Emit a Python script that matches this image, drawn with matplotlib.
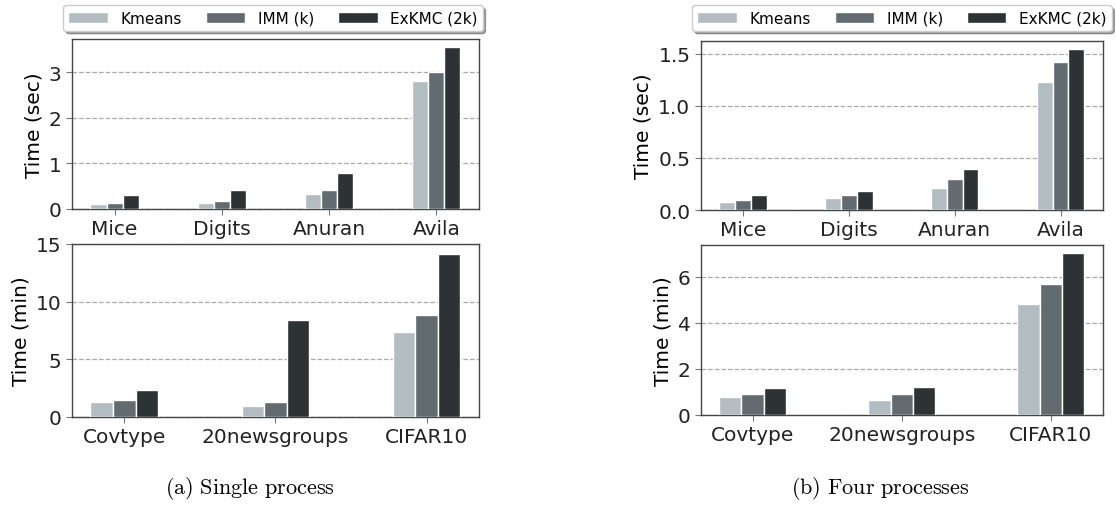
import matplotlib
matplotlib.use("Agg")
import matplotlib.pyplot as plt
import numpy as np

# data
methods = ["Kmeans", "IMM (k)", "ExKMC (2k)"]
colors = ["#b3bcc1", "#626b70", "#2d3335"]

small_datasets = ["Mice", "Digits", "Anuran", "Avila"]
large_datasets = ["Covtype", "20newsgroups", "CIFAR10"]

# (a) single process
single_small = {
    "Kmeans": [0.10, 0.13, 0.33, 2.81],
    "IMM (k)": [0.13, 0.17, 0.42, 3.01],
    "ExKMC (2k)": [0.30, 0.42, 0.78, 3.55],
}
single_large = {
    "Kmeans": [1.30, 0.95, 7.40],
    "IMM (k)": [1.45, 1.30, 8.80],
    "ExKMC (2k)": [2.35, 8.40, 14.10],
}

# (b) four processes
four_small = {
    "Kmeans": [0.077, 0.115, 0.215, 1.23],
    "IMM (k)": [0.100, 0.140, 0.300, 1.42],
    "ExKMC (2k)": [0.145, 0.186, 0.395, 1.545],
}
four_large = {
    "Kmeans": [0.77, 0.65, 4.82],
    "IMM (k)": [0.92, 0.92, 5.69],
    "ExKMC (2k)": [1.15, 1.21, 7.03],
}

captions = ["(a) Single process", "(b) Four processes"]

FONT = 14.5
WIDTH = 0.15


def draw_bars(ax, labels, values, ylabel):
    x = np.arange(len(labels))
    handles = []
    for i, (m, c) in enumerate(zip(methods, colors)):
        h = ax.bar(x + (i - 1) * WIDTH, values[m], WIDTH, color=c,
                   edgecolor="white", linewidth=1.0, zorder=3, label=m)
        handles.append(h)
    ax.set_xticks(x)
    ax.set_xticklabels(labels, fontsize=FONT)
    ax.set_ylabel(ylabel, fontsize=FONT)
    ax.tick_params(axis="both", labelsize=FONT, colors="#222222",
                   length=4, width=0.8)
    ax.tick_params(axis="x", color="#777777")
    ax.tick_params(axis="y", color="#777777")
    ax.grid(axis="y", linestyle="--", color="#aaaaaa", linewidth=0.9, zorder=0)
    for s in ax.spines.values():
        s.set_color("#444444")
        s.set_linewidth(1.0)
    ax.set_ylim(bottom=0)
    return handles


def main():
    fig = plt.figure(figsize=(11.16, 5.06), dpi=100)

    # axes rectangles in figure fraction (left, bottom, width, height)
    ax_a_top = fig.add_axes([0.0645, 0.585, 0.3647, 0.336])
    ax_a_bot = fig.add_axes([0.0645, 0.174, 0.3647, 0.342])
    ax_b_top = fig.add_axes([0.628, 0.583, 0.360, 0.334])
    ax_b_bot = fig.add_axes([0.628, 0.178, 0.360, 0.336])

    handles = draw_bars(ax_a_top, small_datasets, single_small, "Time (sec)")
    ax_a_top.set_yticks([0, 1, 2, 3])
    draw_bars(ax_a_bot, large_datasets, single_large, "Time (min)")
    ax_a_bot.set_ylim(0, 15)
    ax_a_bot.set_yticks([0, 5, 10, 15])

    draw_bars(ax_b_top, small_datasets, four_small, "Time (sec)")
    ax_b_top.set_yticks([0.0, 0.5, 1.0, 1.5])
    ax_b_top.set_yticklabels(["0.0", "0.5", "1.0", "1.5"])
    draw_bars(ax_b_bot, large_datasets, four_large, "Time (min)")
    ax_b_bot.set_yticks([0, 2, 4, 6])

    # legends above each column
    for x0 in [0.0565, 0.620]:
        fig.legend(handles, methods, loc="lower left",
                   bbox_to_anchor=(x0, 0.937, 0.376, 0.053), mode="expand",
                   ncol=3, fontsize=11, frameon=True, fancybox=True,
                   shadow=True, borderaxespad=0, handlelength=2.6,
                   borderpad=0.35, edgecolor="#cccccc")

    plt.rcParams["mathtext.fontset"] = "cm"
    for xc, cap in zip([0.224, 0.789], captions):
        txt = r"$\mathrm{" + cap.replace(" ", r"\ ") + "}$"
        fig.text(xc, 0.035, txt, ha="center", va="center", fontsize=16)

    fig.savefig("out.png", dpi=100)


if __name__ == "__main__":
    main()
